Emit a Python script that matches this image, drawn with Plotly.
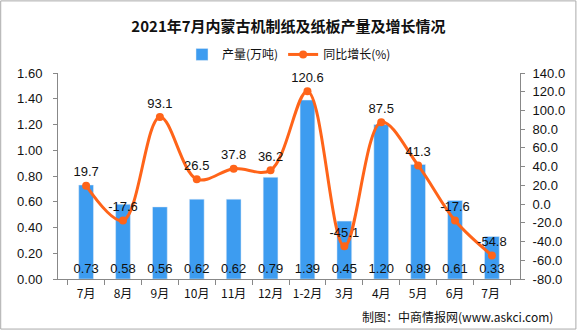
import plotly.graph_objects as go

months = ["7月", "8月", "9月", "10月", "11月", "12月", "1-2月", "3月", "4月", "5月", "6月", "7月 "]
output = [0.73, 0.58, 0.56, 0.62, 0.62, 0.79, 1.39, 0.45, 1.20, 0.89, 0.61, 0.33]
growth = [19.7, -17.6, 93.1, 26.5, 37.8, 36.2, 120.6, -45.1, 87.5, 41.3, -17.6, -54.8]
left_ticks = [0, 0.2, 0.4, 0.6, 0.8, 1.0, 1.2, 1.4, 1.6]
right_ticks = [-80, -60, -40, -20, 0, 20, 40, 60, 80, 100, 120, 140]

num_font = "Liberation Sans, Arial, sans-serif"
cjk_font = "Noto Sans CJK SC, sans-serif"

fig = go.Figure()
fig.add_trace(go.Bar(
    x=months, y=output, name="产量(万吨)",
    marker=dict(color="#3D9CF0"),
    width=0.4,
    text=[f"{v:.2f}" for v in output],
    textposition="inside", insidetextanchor="start",
    constraintext="none", textangle=0,
    textfont=dict(family=num_font, size=13, color="#111111"),
))
fig.add_trace(go.Scatter(
    x=months, y=growth, name="同比增长(%)", yaxis="y2",
    mode="lines+markers+text",
    line=dict(color="#FF6419", width=3, shape="spline", smoothing=1.0),
    marker=dict(color="#FF6419", size=8),
    text=[f"{v:.1f}" for v in growth],
    textposition="top center",
    textfont=dict(family=num_font, size=13, color="#111111"),
    cliponaxis=False,
))

fig.update_layout(
    width=577, height=330,
    margin=dict(l=58, r=57, t=73, b=51, autoexpand=False),
    paper_bgcolor="white", plot_bgcolor="white",
    showlegend=True,
    legend=dict(orientation="h", x=0.5, xanchor="center", y=0.835, yanchor="middle",
                yref="container", font=dict(family=cjk_font, size=12, color="#111111"),
                itemwidth=30, traceorder="normal"),
    title=dict(text="<b>2021年7月内蒙古机制纸及纸板产量及增长情况</b>",
               x=0.5, xanchor="center", y=0.92, yanchor="middle",
               font=dict(family=cjk_font, size=15, color="#111111")),
    xaxis=dict(showline=True, linecolor="#888888", linewidth=1,
               ticks="outside", tickcolor="#888888", ticklen=5,
               tickson="boundaries", tickangle=0, ticklabelstandoff=4,
               tickfont=dict(family=cjk_font, size=12, color="#111111"),
               showgrid=False),
    yaxis=dict(range=[0, 1.6], tickvals=left_ticks,
               ticktext=[f"{v:.2f}" for v in left_ticks],
               showline=True, linecolor="#888888", linewidth=1,
               ticks="outside", tickcolor="#888888", ticklen=4,
               ticklabelstandoff=8,
               tickfont=dict(family=num_font, size=13, color="#111111"),
               showgrid=False, zeroline=False),
    yaxis2=dict(range=[-80, 140], tickvals=right_ticks,
                ticktext=[f"{v:.1f}" for v in right_ticks],
                overlaying="y", side="right",
                showline=True, linecolor="#888888", linewidth=1,
                ticks="outside", tickcolor="#888888", ticklen=4,
                ticklabelstandoff=5,
                tickfont=dict(family=num_font, size=13, color="#111111"),
                showgrid=False, zeroline=False),
    bargap=0.6,
)

fig.add_annotation(text="制图：中商情报网(www.askci.com)", xref="paper", yref="paper",
                   x=1.075, y=-0.13, xanchor="right", yanchor="top", showarrow=False,
                   font=dict(family=cjk_font, size=12, color="#111111"))
fig.add_shape(type="rect", xref="paper", yref="paper", x0=-0.124, x1=1.121, y0=-0.243, y1=1.35,
              line=dict(color="#AAAAAA", width=1))

fig.write_html("out.html")
